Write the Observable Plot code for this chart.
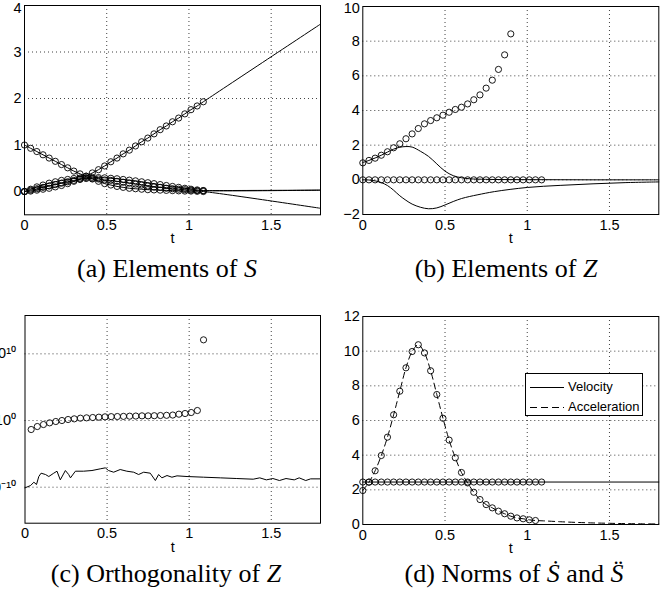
<!DOCTYPE html>
<html><head><meta charset="utf-8">
<script src="https://cdn.jsdelivr.net/npm/d3@7"></script>
<script src="https://cdn.jsdelivr.net/npm/@observablehq/plot@0.6"></script>
<style>
body{margin:0;background:#fff;}
#wrap{position:relative;width:672px;height:603px;overflow:hidden;background:#fff;}
.legend{position:absolute;border:1px solid #000;background:#fff;font-family:'Liberation Sans',Arial,sans-serif;font-size:13px;color:#000;}
.legend .row{position:absolute;left:0;height:16px;line-height:16px;}
.legend svg{position:absolute;left:4px;top:0;}
.legend span{position:absolute;left:42px;top:0;}
</style></head>
<body><div id="wrap"></div>
<script>
// ---- shared sample times of the circle markers
const tCircles = [0,0.0375,0.075,0.1125,0.15,0.1875,0.225,0.2625,0.3,0.3375,0.375,0.4125,0.45,0.4875,0.525,0.5625,0.6,0.6375,0.675,0.7125,0.75,0.7875,0.825,0.8625,0.9,0.9375,0.975,1.0125,1.05,1.0875];
const xTicks = [0,0.5,1,1.5];

// ---- (a) Elements of S
const aR  = [0,0.01,0.03,0.05,0.07,0.10,0.13,0.17,0.22,0.27,0.33,0.40,0.47,0.55,0.64,0.72,0.81,0.89,0.98,1.07,1.15,1.24,1.33,1.41,1.50,1.58,1.67,1.76,1.84,1.93];
const aD  = [1.00,0.93,0.86,0.79,0.72,0.65,0.58,0.51,0.44,0.38,0.33,0.27,0.22,0.17,0.14,0.11,0.09,0.07,0.06,0.05,0.04,0.035,0.03,0.025,0.02,0.015,0.01,0.01,0.005,0];
const aH1 = [0,0.05,0.10,0.14,0.18,0.21,0.24,0.26,0.28,0.29,0.30,0.305,0.30,0.295,0.285,0.275,0.26,0.245,0.23,0.21,0.19,0.17,0.15,0.13,0.11,0.09,0.07,0.05,0.035,0.02];
const aH2 = [0,0.03,0.06,0.09,0.12,0.15,0.18,0.21,0.24,0.26,0.28,0.28,0.27,0.25,0.24,0.22,0.20,0.18,0.16,0.14,0.12,0.10,0.09,0.07,0.06,0.05,0.04,0.03,0.02,0.02];
const aExtT = [1.8];
const aRExt = [3.6], aDExt = [-0.36], aH1Ext = [0.03], aH2Ext = [0.03];
const aYTicks = [0,1,2,3,4];

// ---- (b) Elements of Z
const bRise = [0.98,1.12,1.25,1.42,1.62,1.85,2.08,2.37,2.65,2.96,3.23,3.42,3.58,3.73,3.90,4.06,4.19,4.38,4.62,4.90,5.29,5.75,6.37,7.21,8.42];
const bFlat = [0,0,0,0,0,0,0,0,0,0,0,0,0,0,0,0,0,0,0,0,0,0,0,0,0,0,0,0,0,0];
const bLineT  = [0,0.0375,0.075,0.1125,0.15,0.1875,0.225,0.2625,0.3,0.35,0.4,0.45,0.5,0.55,0.6,0.65,0.7,0.8,1.0,1.2,1.4,1.6,1.8];
const bUpper  = [1.0,1.12,1.26,1.42,1.60,1.77,1.88,1.92,1.89,1.65,1.35,0.92,0.50,0.24,0.12,0.06,0.04,0.02,0.01,0.005,0,0,0];
const bLower  = [0,-0.01,-0.06,-0.16,-0.33,-0.60,-0.92,-1.18,-1.40,-1.58,-1.67,-1.62,-1.45,-1.25,-1.08,-0.96,-0.86,-0.68,-0.44,-0.32,-0.23,-0.16,-0.12];
const bYTicks = [-2,0,2,4,6,8,10];

// ---- (c) Orthogonality of Z (log10 of the values)
const cT   = [0.0375,0.075,0.1125,0.15,0.1875,0.225,0.2625,0.3,0.3375,0.375,0.4125,0.45,0.4875,0.525,0.5625,0.6,0.6375,0.675,0.7125,0.75,0.7875,0.825,0.8625,0.9,0.9375,0.975,1.0125,1.05,1.0875];
const cExp = [-1.35,-0.9,-0.6,-0.35,-0.15,0,0.15,0.25,0.35,0.4,0.45,0.5,0.55,0.58,0.6,0.62,0.65,0.67,0.7,0.7,0.72,0.75,0.78,0.82,0.95,1.05,1.2,1.5,12.1];
const cLineT   = [0,0.034,0.054,0.07,0.084,0.098,0.125,0.145,0.175,0.195,0.215,0.246,0.266,0.277,0.307,0.357,0.408,0.458,0.489,0.509,0.54,0.58,0.62,0.662,0.692,0.723,0.763,0.794,0.814,0.834,0.865,0.895,0.926,0.987,1.088,1.19,1.29,1.39,1.43,1.47,1.51,1.55,1.59,1.64,1.67,1.71,1.74,1.8];
const cLineExp = [-10.1,-9.75,-9.25,-9.6,-8.4,-7.9,-8.1,-8.4,-7.9,-7.6,-8.9,-7.5,-8.1,-8.6,-7.6,-7.6,-7.5,-7.25,-7.1,-7.5,-7.75,-7.35,-7.6,-7.75,-8.1,-7.75,-7.9,-9.0,-8.1,-8.6,-8.25,-8.5,-8.3,-8.4,-8.5,-8.6,-8.7,-8.8,-8.6,-8.9,-8.7,-9.0,-8.7,-8.9,-8.6,-9.0,-8.75,-8.75];
const cYTicks = [1e-10,1,1e10];

// ---- (d) Norms of S' and S''
const dVel = [2.45,2.45,2.45,2.45,2.45,2.45,2.45,2.45,2.45,2.45,2.45,2.45,2.45,2.45,2.45,2.45,2.45,2.45,2.45,2.45,2.45,2.45,2.45,2.45,2.45,2.45,2.45,2.45,2.45,2.45];
const dVelLineT = [0,1.8], dVelLine = [2.45,2.45];
const dAcc = [1.96,2.44,3.1,3.98,5.04,6.33,7.69,9.04,9.98,10.37,9.9,8.87,7.5,6.13,4.87,3.85,3.0,2.4,1.86,1.44,1.15,0.96,0.77,0.62,0.48,0.38,0.33,0.27,0.23];
const dAccExtT = [1.1,1.2,1.3,1.4,1.5,1.6,1.7,1.8];
const dAccExt  = [0.21,0.16,0.12,0.09,0.07,0.05,0.04,0.03];
const dYTicks = [0,2,4,6,8,10,12];
const legendLabels = ["Velocity","Acceleration"];

const captions = [
  {parts:[["(a) Elements of ",0],["S",1]], x:167, y:277},
  {parts:[["(b) Elements of ",0],["Z",1]], x:506, y:277},
  {parts:[["(c) Orthogonality of ",0],["Z",1]], x:166, y:582},
  {parts:[["(d) Norms of ",0],["Ṡ",1],[" and ",0],["S̈",1]], x:514, y:582}
];

// ---- helpers
const pts = (ts, vs) => ts.map((t, i) => ({t, v: vs[i]}));
const wrap = document.getElementById("wrap");
const gridStyle = {stroke:"#000", strokeOpacity:0.75, strokeDasharray:"1,3", strokeWidth:1};
const dotStyle = {x:"t", y:"v", r:3.1, stroke:"#000", fill:"none", strokeWidth:0.9};
const lineStyle = {x:"t", y:"v", stroke:"#000", strokeWidth:1, curve:"catmull-rom"};
const fmt = d => d < 0 ? "\u2212" + Math.abs(d) : String(d);

function addPanel(cfg) {
  const yTicks = cfg.yTicks;
  const topTick = yTicks[yTicks.length - 1];
  const restTicks = cfg.clipTop ? yTicks.slice(0, -1) : yTicks;
  const yFormat = cfg.yFormat ?? fmt;
  const p = Plot.plot({
    width: cfg.width, height: cfg.height,
    marginLeft: cfg.mL, marginRight: cfg.mR, marginTop: cfg.mT, marginBottom: cfg.mB,
    style: {fontFamily: "'Liberation Sans', Arial, sans-serif", fontSize: "14.5px", background: "white", color: "#000", overflow: "visible"},
    x: {domain: [0, 1.8]},
    y: cfg.y,
    marks: [
      Plot.gridX([0.5, 1, 1.5], gridStyle),
      Plot.gridY(cfg.gridY, gridStyle),
      ...cfg.marks,
      Plot.frame({stroke: "#000", strokeWidth: 1}),
      Plot.axisX(xTicks, {tickSize: 0, tickPadding: 5, tickFormat: d => String(d), label: null}),
      Plot.axisY(restTicks, {tickSize: 0, tickPadding: cfg.yPad ?? 3, tickFormat: yFormat, label: null}),
      ...(cfg.clipTop ? [Plot.axisY([topTick], {tickSize: 0, tickPadding: cfg.yPad ?? 3, tickFormat: yFormat, label: null, dy: cfg.clipTop})] : []),
      Plot.text(["t"], {text: d => d, frameAnchor: "bottom", dy: 24, lineAnchor: "middle"})
    ]
  });
  p.style.left = cfg.left + "px";
  p.style.top = cfg.top + "px";
  p.style.position = "absolute";
  wrap.appendChild(p);
}

// (a)
addPanel({
  left: 0, top: 0, width: 336, height: 250, mL: 24, mR: 16, mT: 5, mB: 35.7, clipTop: 3,
  y: {domain: [-0.5, 4]}, yTicks: aYTicks, gridY: [1, 2, 3],
  marks: [
    Plot.line(pts(tCircles.concat(aExtT), aR.concat(aRExt)), lineStyle),
    Plot.line(pts(tCircles.concat(aExtT), aD.concat(aDExt)), lineStyle),
    Plot.line(pts(tCircles.concat(aExtT), aH1.concat(aH1Ext)), lineStyle),
    Plot.line(pts(tCircles.concat(aExtT), aH2.concat(aH2Ext)), lineStyle),
    Plot.dot(pts(tCircles, aR), dotStyle),
    Plot.dot(pts(tCircles, aD), dotStyle),
    Plot.dot(pts(tCircles, aH1), dotStyle),
    Plot.dot(pts(tCircles, aH2), dotStyle)
  ]
});

// (b)
addPanel({
  left: 336, top: 0, width: 336, height: 250, mL: 26.3, mR: 13.7, mT: 6, mB: 36, clipTop: 2,
  y: {domain: [-2, 10]}, yTicks: bYTicks, gridY: [0, 2, 4, 6, 8],
  marks: [
    Plot.line(pts(bLineT, bUpper), lineStyle),
    Plot.line(pts(bLineT, bLower), lineStyle),
    Plot.dot(pts(tCircles.slice(0, bRise.length), bRise), dotStyle),
    Plot.dot(pts(tCircles, bFlat), dotStyle)
  ]
});

// (c)
const sup = {"0":"\u2070","1":"\u00b9","-":"\u207b"};
addPanel({
  left: 0, top: 300, width: 336, height: 260, mL: 24.5, mR: 16, mT: 15, mB: 37.3,
  y: {type: "log", domain: [Math.pow(10, -15.4), Math.pow(10, 15.75)]},
  yTicks: cYTicks, gridY: cYTicks, yPad: 9,
  yFormat: d => "10" + String(Math.round(Math.log10(d))).replace(/[-01]/g, c => sup[c]),
  marks: [
    Plot.line(cLineT.map((t, i) => ({t, v: Math.pow(10, cLineExp[i])})), {x:"t", y:"v", stroke:"#000", strokeWidth:1}),
    Plot.dot(cT.map((t, i) => ({t, v: Math.pow(10, cExp[i])})), dotStyle)
  ]
});

// (d)
addPanel({
  left: 336, top: 300, width: 336, height: 260, mL: 26.3, mR: 13.7, mT: 16, mB: 36,
  y: {domain: [0, 12]}, yTicks: dYTicks, gridY: [2, 4, 6, 8, 10],
  marks: [
    Plot.line(pts(dVelLineT, dVelLine), {x:"t", y:"v", stroke:"#000", strokeWidth:1}),
    Plot.line(pts(tCircles.slice(0, dAcc.length).concat(dAccExtT), dAcc.concat(dAccExt)), {...lineStyle, strokeDasharray: "6,4"}),
    Plot.dot(pts(tCircles, dVel), dotStyle),
    Plot.dot(pts(tCircles.slice(0, dAcc.length), dAcc), dotStyle)
  ]
});

// legend of (d)
const lg = document.createElement("div");
lg.className = "legend";
Object.assign(lg.style, {left: "525px", top: "373px", width: "116px", height: "41px"});
legendLabels.forEach((lab, i) => {
  const row = document.createElement("div");
  row.className = "row";
  row.style.top = (5 + i * 20) + "px";
  row.style.width = "116px";
  row.innerHTML = `<svg width="36" height="16"><line x1="0" x2="34" y1="8.5" y2="8.5" stroke="#000" stroke-width="1" ${i ? 'stroke-dasharray="7,4"' : ''}/></svg><span>${lab}</span>`;
  lg.appendChild(row);
});
wrap.appendChild(lg);

// captions, drawn as serif SVG text below the panels
const NS = "http://www.w3.org/2000/svg";
const capSvg = document.createElementNS(NS, "svg");
capSvg.setAttribute("width", 672);
capSvg.setAttribute("height", 603);
capSvg.style.position = "absolute";
capSvg.style.left = "0px";
capSvg.style.top = "0px";
capSvg.style.pointerEvents = "none";
captions.forEach(c => {
  const t = document.createElementNS(NS, "text");
  t.setAttribute("x", c.x);
  t.setAttribute("y", c.y);
  t.setAttribute("text-anchor", "middle");
  t.setAttribute("font-family", "Liberation Serif, Times New Roman, DejaVu Serif, serif");
  t.setAttribute("font-size", "26");
  t.setAttribute("fill", "#000");
  c.parts.forEach(([s, it]) => {
    const ts = document.createElementNS(NS, "tspan");
    ts.textContent = s;
    if (it) ts.setAttribute("font-style", "italic");
    t.appendChild(ts);
  });
  capSvg.appendChild(t);
});
wrap.appendChild(capSvg);
</script>
</body></html>
